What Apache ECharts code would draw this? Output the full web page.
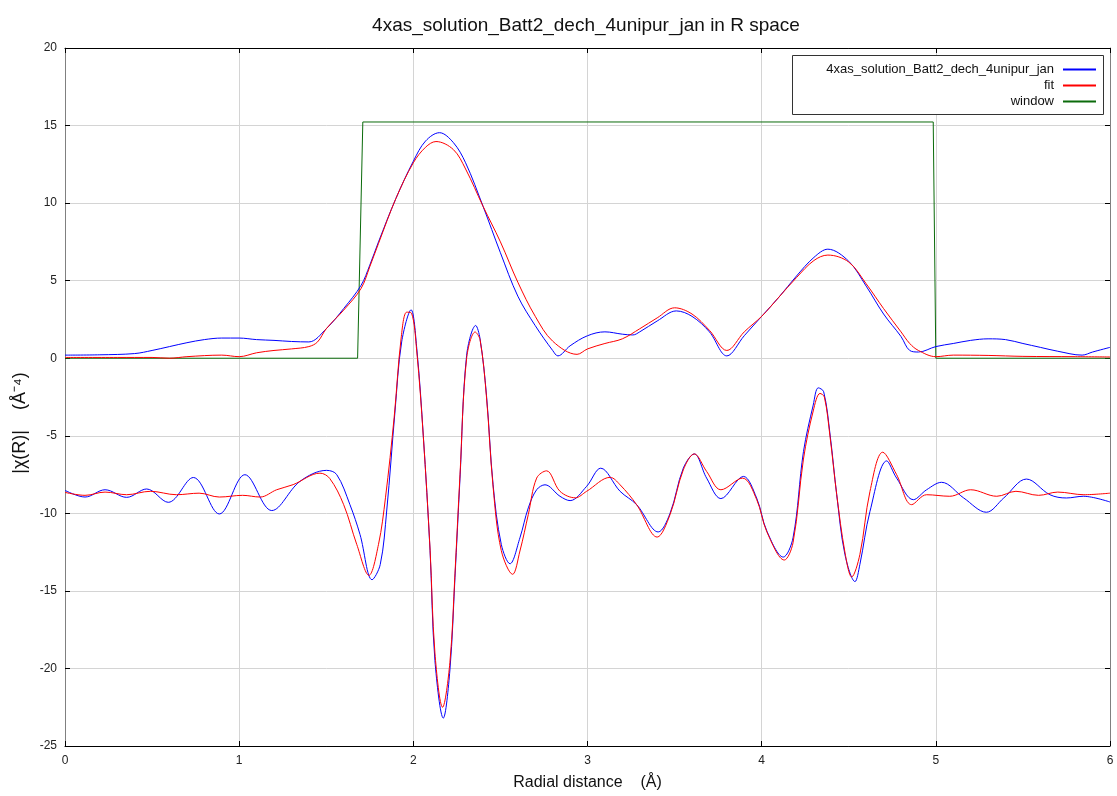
<!DOCTYPE html>
<html>
<head>
<meta charset="utf-8">
<script src="https://cdn.jsdelivr.net/npm/echarts@6/dist/echarts.min.js"></script>
<style>html,body{margin:0;padding:0;background:#fff;}#c{width:1117px;height:796px;}</style>
</head>
<body>
<div id="c"></div>
<script>
var seriesName = '4xas_solution_Batt2_dech_4unipur_jan';
var xTicks = [0, 1, 2, 3, 4, 5, 6];

// |chi(R)| of data
var magDataX = [0, 0.2, 0.4, 0.5, 0.6, 0.7, 0.8, 0.9, 1.0, 1.1, 1.2, 1.3, 1.4, 1.5, 1.6, 1.7, 1.75, 1.8, 1.9, 2.0, 2.07, 2.15, 2.23, 2.3, 2.4, 2.5, 2.6, 2.7, 2.8, 2.83, 2.9, 3.0, 3.1, 3.2, 3.26, 3.3, 3.4, 3.51, 3.6, 3.7, 3.8, 3.9, 4.0, 4.1, 4.2, 4.3, 4.38, 4.5, 4.6, 4.7, 4.8, 4.85, 4.9, 5.0, 5.1, 5.2, 5.3, 5.4, 5.5, 5.6, 5.7, 5.84, 5.9, 6.0];
var magDataY = [0.2, 0.22, 0.3, 0.5, 0.75, 1.0, 1.2, 1.3, 1.3, 1.2, 1.15, 1.08, 1.05, 1.9, 3.2, 4.7, 6.0, 7.5, 10.3, 12.7, 14.0, 14.54, 13.9, 12.6, 9.8, 6.8, 4.0, 2.1, 0.5, 0.15, 0.8, 1.45, 1.7, 1.55, 1.5, 1.7, 2.4, 3.05, 2.7, 1.7, 0.15, 1.45, 2.7, 3.95, 5.3, 6.5, 7.03, 6.25, 4.65, 2.85, 1.4, 0.5, 0.4, 0.75, 0.95, 1.15, 1.25, 1.2, 0.95, 0.7, 0.45, 0.2, 0.4, 0.7];

// |chi(R)| of fit
var magFitX = [0, 0.3, 0.5, 0.6, 0.7, 0.9, 1.0, 1.1, 1.2, 1.3, 1.4, 1.45, 1.5, 1.6, 1.7, 1.75, 1.8, 1.9, 2.0, 2.07, 2.13, 2.23, 2.3, 2.4, 2.5, 2.6, 2.7, 2.8, 2.94, 3.0, 3.1, 3.2, 3.3, 3.4, 3.5, 3.6, 3.7, 3.8, 3.9, 4.0, 4.1, 4.2, 4.3, 4.38, 4.5, 4.6, 4.7, 4.8, 4.85, 4.9, 5.0, 5.1, 5.3, 5.5, 5.8, 6.0];
var magFitY = [0.05, 0.05, 0.05, 0.0, 0.1, 0.2, 0.1, 0.35, 0.5, 0.6, 0.75, 1.05, 1.9, 3.1, 4.5, 5.9, 7.4, 10.3, 12.6, 13.6, 13.97, 13.45, 12.2, 9.8, 7.5, 4.9, 2.7, 1.1, 0.25, 0.6, 0.95, 1.25, 1.9, 2.6, 3.25, 2.85, 1.8, 0.5, 1.7, 2.7, 3.95, 5.2, 6.3, 6.65, 6.2, 4.8, 3.2, 1.7, 0.95, 0.5, 0.1, 0.2, 0.18, 0.12, 0.1, 0.08];

// Re[chi(R)] of data
var reDataX = [0, 0.115, 0.23, 0.354, 0.469, 0.593, 0.737, 0.886, 1.033, 1.187, 1.349, 1.502, 1.56, 1.636, 1.694, 1.763, 1.81, 1.847, 1.895, 1.933, 1.987, 2.02, 2.057, 2.096, 2.124, 2.172, 2.21, 2.239, 2.268, 2.306, 2.358, 2.383, 2.42, 2.458, 2.505, 2.555, 2.612, 2.66, 2.708, 2.756, 2.842, 2.9, 2.995, 3.076, 3.187, 3.282, 3.406, 3.474, 3.55, 3.613, 3.684, 3.766, 3.895, 3.971, 4.03, 4.124, 4.18, 4.24, 4.296, 4.325, 4.356, 4.393, 4.431, 4.478, 4.536, 4.564, 4.622, 4.718, 4.775, 4.871, 4.947, 5.033, 5.16, 5.29, 5.39, 5.52, 5.655, 5.75, 5.847, 6.0];
var reDataY = [-8.52, -8.95, -8.48, -8.97, -8.43, -9.29, -7.69, -10.04, -7.51, -9.82, -7.94, -7.23, -7.5, -9.44, -11.37, -14.28, -13.3, -9.85, -3.4, 1.05, 3.12, 0.6, -4.95, -12.4, -19.5, -23.2, -20.1, -14.15, -7.73, 0.19, 2.11, 1.26, -2.38, -8.16, -12.0, -13.25, -11.58, -9.65, -8.48, -8.16, -8.9, -9.18, -8.26, -7.09, -8.58, -9.44, -11.2, -10.0, -7.09, -6.17, -7.73, -9.05, -7.62, -9.01, -11.15, -12.82, -11.58, -6.02, -3.02, -1.91, -2.16, -4.95, -8.8, -12.65, -14.4, -13.29, -9.87, -6.62, -7.73, -9.12, -8.48, -8.0, -9.01, -9.93, -9.01, -7.79, -8.8, -9.01, -8.9, -9.27];

// Re[chi(R)] of fit
var reFitX = [0, 0.115, 0.23, 0.354, 0.49, 0.64, 0.77, 0.886, 1.02, 1.12, 1.215, 1.31, 1.464, 1.52, 1.6, 1.675, 1.745, 1.8, 1.84, 1.89, 1.93, 1.962, 1.99, 2.02, 2.057, 2.096, 2.124, 2.168, 2.21, 2.239, 2.268, 2.306, 2.355, 2.383, 2.42, 2.458, 2.505, 2.57, 2.612, 2.66, 2.708, 2.765, 2.842, 2.93, 2.995, 3.13, 3.187, 3.282, 3.4, 3.474, 3.55, 3.613, 3.684, 3.766, 3.89, 3.971, 4.03, 4.13, 4.18, 4.24, 4.296, 4.335, 4.36, 4.393, 4.431, 4.478, 4.517, 4.564, 4.622, 4.695, 4.775, 4.861, 4.947, 5.08, 5.2, 5.35, 5.46, 5.59, 5.7, 5.85, 6.0];
var reFitY = [-8.65, -8.84, -8.63, -8.8, -8.58, -8.8, -8.7, -8.95, -8.84, -8.95, -8.48, -8.15, -7.41, -7.75, -9.44, -12.0, -14.0, -12.0, -9.0, -3.8, 1.3, 2.97, 2.9, 0.4, -5.0, -12.3, -19.0, -22.5, -19.6, -13.9, -7.5, 0.0, 1.69, 1.2, -2.5, -8.3, -12.4, -13.93, -12.43, -10.08, -7.73, -7.26, -8.58, -9.0, -8.58, -7.68, -8.16, -9.44, -11.53, -10.08, -7.2, -6.17, -7.3, -8.48, -7.73, -9.1, -11.2, -13.01, -11.9, -6.5, -3.4, -2.27, -2.5, -5.1, -8.8, -12.5, -14.1, -12.65, -8.58, -6.06, -7.51, -9.44, -8.8, -8.9, -8.48, -8.9, -8.58, -8.84, -8.63, -8.8, -8.7];

// FT window
var winX = [0, 1.68, 1.71, 4.985, 5.0, 6.0];
var winY = [0, 0, 15.23, 15.23, 0, 0];

function zip(xs, ys) { return xs.map(function (x, i) { return [x, ys[i]]; }); }

var chart = echarts.init(document.getElementById('c'), null, { renderer: 'canvas' });
var fontFam = 'Liberation Sans, Arial, sans-serif';
var blue = '#0000ff', red = '#ff0000', green = '#0b6b0b';

function legendFor(name, top) {
  return {
    data: [name], orient: 'vertical', right: 21, top: top, align: 'right',
    icon: 'rect', itemWidth: 33, itemHeight: 2, itemGap: 0, padding: 0, selectedMode: false,
    textStyle: { fontFamily: fontFam, fontSize: 13, color: '#111', padding: [0, 4, 0, 0] }
  };
}

chart.setOption({
  animation: false,
  backgroundColor: '#fff',
  title: {
    text: '4xas_solution_Batt2_dech_4unipur_jan in R space',
    left: 581, top: 11, textAlign: 'center',
    textStyle: { fontFamily: fontFam, fontSize: 19, fontWeight: 'normal', color: '#111' }
  },
  grid: { left: 65, right: 7, top: 48, bottom: 47, containLabel: false },
  legend: [legendFor(seriesName, 63), legendFor('fit', 79), legendFor('window', 95)],
  graphic: [{
    type: 'rect', left: 792, top: 55, z: 3,
    shape: { width: 311, height: 59 },
    style: { fill: '#fff', stroke: '#333', lineWidth: 1 }
  }],
  xAxis: [{
    type: 'value', min: 0, max: 6, interval: 1, position: 'bottom',
    name: 'Radial distance    (Å)', nameLocation: 'middle', nameGap: 29,
    nameTextStyle: { fontFamily: fontFam, fontSize: 16, color: '#111' },
    axisLine: { show: true, onZero: false, lineStyle: { color: '#000', width: 1 } },
    axisTick: { show: true, inside: true, length: 5, lineStyle: { color: '#000' } },
    axisLabel: { fontFamily: fontFam, fontSize: 12, color: '#222', margin: 9,
      formatter: function (v) { return xTicks.indexOf(v) >= 0 ? String(v) : ''; } },
    splitLine: { show: true, lineStyle: { color: '#d4d4d4', width: 1 } }
  }, {
    type: 'value', min: 0, max: 6, interval: 1, position: 'top',
    axisLine: { show: true, onZero: false, lineStyle: { color: '#000', width: 1 } },
    axisTick: { show: true, inside: true, length: 5, lineStyle: { color: '#000' } },
    axisLabel: { show: false }, splitLine: { show: false }
  }],
  yAxis: [{
    type: 'value', min: -25, max: 20, interval: 5, position: 'left',
    name: '|χ(R)|    (Å⁻⁴)', nameLocation: 'middle', nameGap: 29, nameRotate: 90,
    nameTextStyle: { fontFamily: fontFam, fontSize: 18, color: '#111', padding: [0, 52, 0, 0] },
    axisLine: { show: true, onZero: false, lineStyle: { color: '#808080', width: 1 } },
    axisTick: { show: true, inside: true, length: 5, lineStyle: { color: '#000' } },
    axisLabel: { fontFamily: fontFam, fontSize: 12, color: '#222', margin: 8 },
    splitLine: { show: true, lineStyle: { color: '#d4d4d4', width: 1 } }
  }, {
    type: 'value', min: -25, max: 20, interval: 5, position: 'right',
    axisLine: { show: true, onZero: false, lineStyle: { color: '#808080', width: 1 } },
    axisTick: { show: true, inside: true, length: 5, lineStyle: { color: '#000' } },
    axisLabel: { show: false }, splitLine: { show: false }
  }],
  series: [
    { name: 'window', type: 'line', data: zip(winX, winY), symbol: 'none', smooth: false,
      lineStyle: { color: green, width: 1 }, itemStyle: { color: green }, z: 2 },
    { name: seriesName, type: 'line', data: zip(magDataX, magDataY), symbol: 'none', smooth: 0.35,
      lineStyle: { color: blue, width: 1 }, itemStyle: { color: blue }, z: 3 },
    { name: seriesName, type: 'line', data: zip(reDataX, reDataY), symbol: 'none', smooth: 0.35,
      lineStyle: { color: blue, width: 1 }, itemStyle: { color: blue }, z: 3 },
    { name: 'fit', type: 'line', data: zip(magFitX, magFitY), symbol: 'none', smooth: 0.35,
      lineStyle: { color: red, width: 1 }, itemStyle: { color: red }, z: 4 },
    { name: 'fit', type: 'line', data: zip(reFitX, reFitY), symbol: 'none', smooth: 0.35,
      lineStyle: { color: red, width: 1 }, itemStyle: { color: red }, z: 4 }
  ]
});
</script>
</body>
</html>
